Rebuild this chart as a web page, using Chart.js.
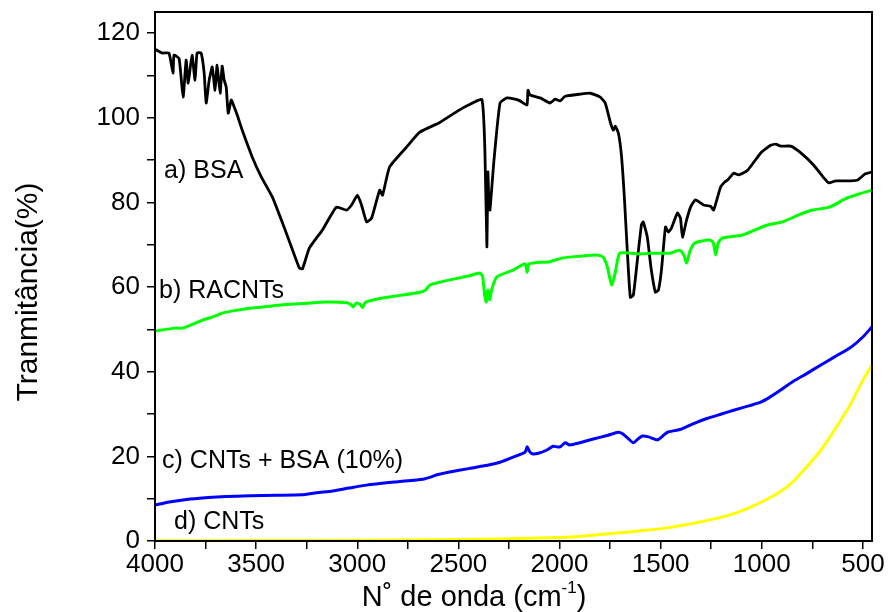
<!DOCTYPE html>
<html>
<head>
<meta charset="utf-8">
<script src="https://cdn.jsdelivr.net/npm/chart.js@4.4.1/dist/chart.umd.min.js"></script>
<style>
  html, body { margin: 0; padding: 0; background: #fff; }
  #wrap { width: 888px; height: 612px; }
</style>
</head>
<body>
<div id="wrap"><canvas id="c" width="888" height="612"></canvas></div>
<script>
// FTIR spectra: transmittance (%) versus wavenumber (cm-1)

// a) BSA
const bsaWave = [4000, 3965, 3931, 3911, 3906, 3881, 3861, 3846, 3836, 3817, 3802, 3792, 3772, 3757, 3747, 3732, 3717, 3703, 3693, 3678,
  3668, 3658, 3648, 3638, 3623, 3608, 3593, 3569, 3519, 3474, 3420, 3351, 3311, 3286, 3271, 3237, 3172, 3103, 3053, 3028,
  2999, 2979, 2954, 2929, 2889, 2875, 2840, 2756, 2691, 2592, 2500, 2450, 2384, 2369, 2359, 2354, 2349, 2344, 2324, 2294,
  2260, 2220, 2195, 2161, 2156, 2146, 2096, 2047, 2022, 1997, 1972, 1898, 1848, 1799, 1774, 1749, 1734, 1724, 1709, 1694,
  1680, 1665, 1650, 1635, 1615, 1595, 1586, 1566, 1546, 1526, 1511, 1496, 1476, 1462, 1447, 1417, 1402, 1392, 1372, 1352,
  1328, 1288, 1253, 1238, 1204, 1184, 1169, 1139, 1115, 1070, 1005, 956, 931, 907, 857, 807, 743, 693, 669, 634,
  560, 525, 490, 455];
const bsaT = [116.2, 115.3, 115.3, 110.6, 114.8, 114.0, 104.9, 113.6, 108.2, 114.8, 108.9, 115.3, 115.3, 110.6, 103.5, 108.9, 112.0, 106.5, 112.4, 105.8,
  112.2, 108.9, 107.3, 101.1, 104.2, 102.5, 100.6, 97.1, 90.7, 86.0, 81.3, 72.8, 67.6, 64.5, 64.3, 69.2, 73.5, 78.9, 78.2, 79.4,
  81.7, 79.4, 75.4, 76.3, 82.9, 81.7, 88.4, 93.1, 96.6, 98.9, 101.7, 103.0, 104.3, 92.4, 69.5, 87.2, 79.4, 78.2, 90.0, 103.5,
  104.7, 104.4, 104.0, 103.0, 106.5, 105.4, 104.7, 103.5, 104.4, 104.0, 105.1, 105.6, 105.8, 104.9, 103.5, 99.0, 97.1, 98.0, 96.4, 91.2,
  81.7, 68.7, 57.6, 58.1, 66.4, 74.7, 75.4, 71.8, 64.0, 58.8, 59.3, 64.0, 74.2, 73.0, 73.9, 77.5, 76.3, 71.8, 75.8, 78.9,
  80.6, 79.4, 79.1, 78.2, 83.6, 84.8, 85.3, 86.9, 86.5, 87.6, 91.7, 93.5, 93.8, 93.3, 93.3, 91.7, 88.8, 85.8, 84.6, 85.1,
  85.1, 85.3, 86.7, 87.2];

// b) RACNTs
const racWave = [4000, 3900, 3862, 3800, 3763, 3700, 3664, 3600, 3531, 3450, 3368, 3250, 3150, 3050, 3030, 3020, 3005, 2985, 2974, 2960,
  2875, 2780, 2690, 2665, 2640, 2607, 2542, 2450, 2394, 2380, 2370, 2362, 2355, 2345, 2335, 2310, 2231, 2170, 2160, 2150,
  2048, 1984, 1900, 1816, 1785, 1765, 1742, 1725, 1703, 1650, 1600, 1550, 1456, 1406, 1385, 1372, 1355, 1332, 1258, 1240,
  1228, 1215, 1194, 1095, 976, 897, 820, 749, 665, 581, 520, 455];
const racT = [49.6, 50.3, 50.3, 51.5, 52.2, 53.2, 53.9, 54.5, 55.0, 55.4, 55.8, 56.2, 56.5, 56.3, 55.8, 55.3, 56.2, 55.9, 55.2, 56.4,
  57.4, 58.1, 58.8, 59.2, 60.5, 61.0, 61.7, 62.6, 63.3, 62.5, 58.0, 56.5, 59.3, 57.0, 59.5, 62.4, 64.0, 65.5, 63.5, 65.5,
  66.0, 66.9, 67.3, 67.6, 67.1, 65.0, 60.5, 63.3, 68.0, 68.0, 67.8, 68.0, 68.0, 68.7, 67.5, 65.7, 68.5, 70.4, 71.1, 70.5,
  67.6, 70.5, 71.6, 72.3, 74.6, 75.4, 77.0, 78.2, 78.9, 81.0, 82.0, 82.9];

// c) CNTs + BSA (10%)
const mixWave = [4000, 3930, 3862, 3780, 3694, 3600, 3531, 3400, 3274, 3200, 3121, 3040, 2953, 2800, 2676, 2600, 2543, 2450, 2345, 2295,
  2220, 2170, 2160, 2150, 2136, 2100, 2062, 2032, 2010, 1995, 1972, 1950, 1900, 1833, 1760, 1710, 1690, 1660, 1635, 1610,
  1590, 1560, 1515, 1490, 1466, 1400, 1340, 1268, 1200, 1139, 1060, 1005, 960, 921, 842, 780, 708, 640, 559, 500, 455];
const mixT = [8.5, 9.2, 9.7, 10.1, 10.4, 10.6, 10.7, 10.8, 10.9, 11.4, 11.8, 12.5, 13.2, 14.0, 14.6, 15.7, 16.3, 17.1, 18.0, 18.6,
  20.0, 21.0, 22.3, 21.3, 20.6, 20.8, 21.5, 22.4, 22.2, 22.3, 23.2, 22.7, 23.2, 24.1, 25.0, 25.7, 25.4, 24.2, 23.2, 24.2,
  24.8, 24.6, 23.9, 24.8, 25.7, 26.4, 27.7, 29.0, 30.0, 30.9, 32.0, 32.8, 34.0, 35.2, 37.8, 39.5, 41.6, 43.5, 45.8, 48.2, 50.6];

// d) CNTs
const cntWave = [4000, 3500, 3000, 2500, 2295, 2100, 1962, 1850, 1714, 1600, 1466, 1350, 1218, 1130, 1055, 990, 921, 860, 807, 760,
  708, 660, 609, 565, 525, 490, 455];
const cntT = [0.05, 0.1, 0.2, 0.35, 0.5, 0.7, 0.9, 1.3, 1.9, 2.4, 3.1, 4.1, 5.4, 6.6, 8.0, 9.5, 11.3, 13.4, 16.0, 18.5,
  21.5, 24.8, 28.6, 32.0, 35.7, 38.8, 41.6];

// Axis ticks
const xTickValues = [500, 750, 1000, 1250, 1500, 1750, 2000, 2250, 2500, 2750, 3000, 3250, 3500, 3750, 4000];
const xTickLabels = ['500', '', '1000', '', '1500', '', '2000', '', '2500', '', '3000', '', '3500', '', '4000'];
const yTickValues = [0, 10, 20, 30, 40, 50, 60, 70, 80, 90, 100, 110, 120];
const yTickLabels = ['0', '', '20', '', '40', '', '60', '', '80', '', '100', '', '120'];

// Curve names, anchored (left, baseline) in data units
const curveLabels = [
  { text: 'a) BSA', wave: 3955, value: 85.8 },
  { text: 'b) RACNTs', wave: 3980, value: 57.4 },
  { text: 'c) CNTs + BSA (10%)', wave: 3965, value: 17.2 },
  { text: 'd) CNTs', wave: 3906, value: 2.8 }
];

const FONT = '"Liberation Sans", Arial, Helvetica, sans-serif';
const pts = (w, t) => w.map((v, i) => ({ x: v, y: t[i] }));

const decor = {
  id: 'decor',
  afterDraw(chart) {
    const { ctx, chartArea: a, scales: { x, y } } = chart;
    ctx.save();
    ctx.strokeStyle = '#000';
    ctx.lineWidth = 2;
    ctx.strokeRect(a.left, a.top, a.right - a.left, a.bottom - a.top);

    ctx.fillStyle = '#000';
    ctx.font = '25px ' + FONT;
    ctx.textAlign = 'left';
    ctx.textBaseline = 'alphabetic';
    curveLabels.forEach(l => ctx.fillText(l.text, x.getPixelForValue(l.wave), y.getPixelForValue(l.value)));

    // y title
    ctx.save();
    ctx.font = '30px ' + FONT;
    ctx.translate(29, 292);
    ctx.rotate(-Math.PI / 2);
    ctx.textAlign = 'center';
    ctx.textBaseline = 'middle';
    ctx.fillText('Tranmitância(%)', 0, 0);
    ctx.restore();

    // x title with superscript exponent
    const main = 'N˚ de onda (cm', sup = '-1', tail = ')';
    ctx.font = '29px ' + FONT;
    const wMain = ctx.measureText(main).width, wTail = ctx.measureText(tail).width;
    ctx.font = '17px ' + FONT;
    const wSup = ctx.measureText(sup).width;
    let cx = 474 - (wMain + wSup + wTail) / 2;
    const base = 606;
    ctx.textAlign = 'left';
    ctx.font = '29px ' + FONT;
    ctx.fillText(main, cx, base);
    cx += wMain;
    ctx.font = '17px ' + FONT;
    ctx.fillText(sup, cx, base - 13);
    cx += wSup;
    ctx.font = '29px ' + FONT;
    ctx.fillText(tail, cx, base);
    ctx.restore();
  }
};

const lineStyle = (label, data, color, width, tension) => ({
  label, data, borderColor: color, backgroundColor: color, borderWidth: width,
  pointRadius: 0, tension, fill: false
});

new Chart(document.getElementById('c'), {
  type: 'line',
  data: {
    datasets: [
      lineStyle('d) CNTs', pts(cntWave, cntT), '#ffff00', 3, 0.4),
      lineStyle('c) CNTs + BSA (10%)', pts(mixWave, mixT), '#0000ff', 3, 0.2),
      lineStyle('b) RACNTs', pts(racWave, racT), '#00ff00', 3, 0.2),
      lineStyle('a) BSA', pts(bsaWave, bsaT), '#000000', 2.8, 0.15)
    ]
  },
  options: {
    responsive: false,
    devicePixelRatio: 1,
    animation: false,
    layout: { padding: { top: 12, right: 16, left: 0, bottom: 0 } },
    plugins: { legend: { display: false }, tooltip: { enabled: false } },
    scales: {
      x: {
        type: 'linear',
        reverse: true,
        min: 455,
        max: 4000,
        afterBuildTicks: s => { s.ticks = xTickValues.map(v => ({ value: v })); },
        afterFit: s => { s.height = 71; s.paddingLeft = 0; s.paddingRight = 0; },
        ticks: {
          autoSkip: false,
          maxRotation: 0,
          padding: 0,
          color: '#000',
          font: { size: 26, family: FONT },
          callback: (v) => xTickLabels[xTickValues.indexOf(v)]
        },
        grid: { drawOnChartArea: false, drawTicks: true, tickLength: 8, color: '#000', lineWidth: 1.5 },
        border: { display: true, color: '#000', width: 2 }
      },
      y: {
        min: 0,
        max: 125,
        afterBuildTicks: s => { s.ticks = yTickValues.map(v => ({ value: v })); },
        afterFit: s => { s.width = 155; s.paddingTop = 0; s.paddingBottom = 0; },
        ticks: {
          autoSkip: false,
          padding: 7,
          color: '#000',
          font: { size: 26, family: FONT },
          callback: v => yTickLabels[yTickValues.indexOf(v)]
        },
        grid: { drawOnChartArea: false, drawTicks: true, tickLength: 8, color: '#000', lineWidth: 1.5 },
        border: { display: true, color: '#000', width: 2 }
      }
    }
  },
  plugins: [decor]
});
</script>
</body>
</html>
